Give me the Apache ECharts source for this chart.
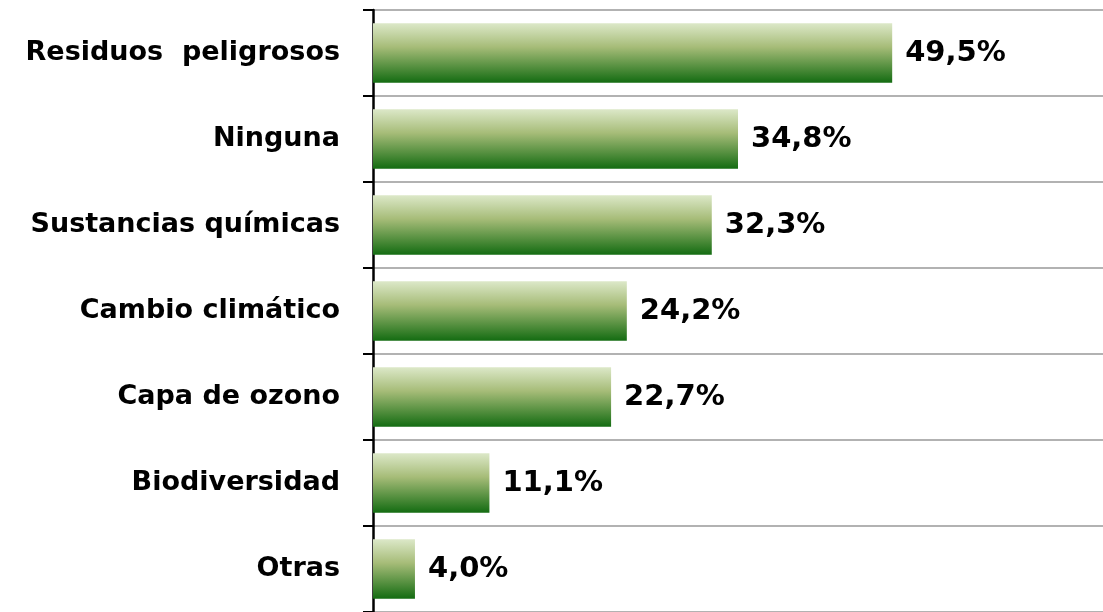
<!DOCTYPE html>
<html>
<head>
<meta charset="utf-8">
<script src="https://cdn.jsdelivr.net/npm/echarts@6/dist/echarts.min.js"></script>
<style>
  html, body { margin: 0; padding: 0; background: #fff; }
  #chart { width: 1103px; height: 612px; }
</style>
</head>
<body>
<div id="chart"></div>
<script>
const categories = [
  "Residuos  peligrosos",
  "Ninguna",
  "Sustancias químicas",
  "Cambio climático",
  "Capa de ozono",
  "Biodiversidad",
  "Otras",
];
const values = [49.5, 34.8, 32.3, 24.2, 22.7, 11.1, 4.0];

const myChart = echarts.init(document.getElementById("chart"));

const barColor = new echarts.graphic.LinearGradient(0, 0, 0, 1, [
  { offset: 0, color: "#dce8c8" },
  { offset: 0.4, color: "#a6bc78" },
  { offset: 1, color: "#146c12" },
]);

myChart.setOption({
  animation: false,
  grid: {
    left: 373,
    top: 10,
    right: 0,
    height: 605,
    containLabel: false,
  },
  xAxis: {
    type: "value",
    min: 0,
    max: 69.6,
    show: false,
  },
  yAxis: {
    type: "category",
    inverse: true,
    data: categories,
    axisLine: {
      show: true,
      lineStyle: { color: "#000", width: 2.5 },
    },
    axisTick: {
      show: true,
      length: 10,
      lineStyle: { color: "#000", width: 2 },
    },
    splitLine: {
      show: true,
      lineStyle: { color: "#999", width: 1.5 },
    },
    axisLabel: {
      margin: 33,
      color: "#000",
      fontFamily: "DejaVu Sans",
      fontWeight: "bold",
      fontSize: 27,
    },
  },
  series: [
    {
      type: "bar",
      data: values,
      barCategoryGap: "31%",
      itemStyle: { color: barColor },
      label: {
        show: true,
        position: "right",
        distance: 13,
        color: "#000",
        fontFamily: "DejaVu Sans",
        fontWeight: "bold",
        fontSize: 29,
        formatter: (p) => p.value.toFixed(1).replace(".", ",") + "%",
      },
    },
  ],
});
</script>
</body>
</html>
